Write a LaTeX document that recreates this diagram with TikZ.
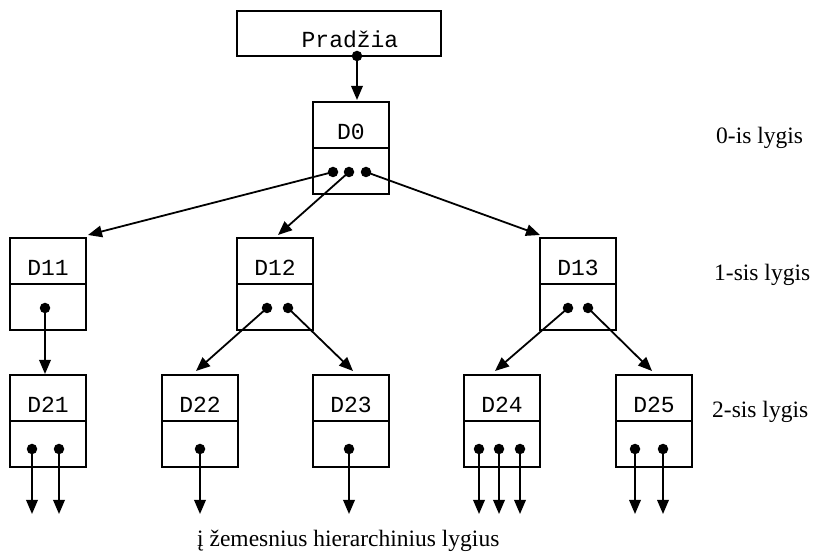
\documentclass[tikz,border=0pt]{standalone}
\usepackage{fontspec}
\setmainfont{Liberation Serif}
\setmonofont{Liberation Mono}
\usetikzlibrary{arrows.meta,calc}

\tikzset{
  compart/.style={draw, line width=2pt, inner sep=0pt, outer sep=0pt,
                  minimum width=76pt, minimum height=46pt},
  boxtext/.style={font=\fontsize{23}{26}\selectfont\ttfamily, inner sep=0pt},
  leveltext/.style={font=\fontsize{23.5}{27}\selectfont, inner sep=0pt, anchor=base west},
  dot/.style={circle, fill, inner sep=0pt, minimum size=10.5pt},
  link/.style={line width=1.8pt, -{Triangle[length=14pt,width=11.5pt]}},
}

% a directory record: name, left x, top y, label
\newcommand\dirrec[4]{%
  \node[compart, anchor=north west] (#1-top) at (#2,#3) {};
  \node[compart, anchor=north] (#1-bot) at (#1-top.south) {};
  \node[boxtext, anchor=base] (#1-lbl) at ($(#1-top.north)+(0,38)$) {#4};
}

\begin{document}
\begin{tikzpicture}[x=1pt,y=-1pt]
\useasboundingbox (0,0) rectangle (815,553);

% start record
\node[compart, minimum width=204pt, minimum height=45pt, anchor=north west] (start) at (237,11) {};
\node[boxtext, anchor=base] (start-lbl) at (350,48) {Pradžia};
\node[dot] (start-p) at (357,56) {};

% level 0
\dirrec{D0}{313}{102}{D0}
% level 1
\dirrec{D11}{10}{238}{D11}
\dirrec{D12}{237}{238}{D12}
\dirrec{D13}{540}{238}{D13}
% level 2
\dirrec{D21}{10}{375}{D21}
\dirrec{D22}{162}{375}{D22}
\dirrec{D23}{313}{375}{D23}
\dirrec{D24}{464}{375}{D24}
\dirrec{D25}{616}{375}{D25}

% pointers
\node[dot] (D0-p1) at (333,172) {};
\node[dot] (D0-p2) at (349,172) {};
\node[dot] (D0-p3) at (366,172) {};
\node[dot] (D11-p1) at (45,308) {};
\node[dot] (D12-p1) at (267,308) {};
\node[dot] (D12-p2) at (288,308) {};
\node[dot] (D13-p1) at (568,308) {};
\node[dot] (D13-p2) at (588,308) {};
\node[dot] (D21-p1) at (32,449) {};
\node[dot] (D21-p2) at (59,449) {};
\node[dot] (D22-p1) at (200,449) {};
\node[dot] (D23-p1) at (349,449) {};
\node[dot] (D24-p1) at (479,449) {};
\node[dot] (D24-p2) at (499,449) {};
\node[dot] (D24-p3) at (520,449) {};
\node[dot] (D25-p1) at (635,449) {};
\node[dot] (D25-p2) at (663,449) {};

% loose ends towards lower levels
\foreach \p in {D21-p1,D21-p2,D22-p1,D23-p1,D24-p1,D24-p2,D24-p3,D25-p1,D25-p2}
  \coordinate (\p-end) at (\p |- 0,514);

% links
\draw[link] (start-p.center) -- ($(D0-top.north)+(6,-2)$);
\draw[link] (D0-p1.center) -- ($(D11-top.north east)+(2,-3)$);
\draw[link] (D0-p2.center) -- ($(D12-top.north)+(3,-3)$);
\draw[link] (D0-p3.center) -- ($(D13-top.north west)+(0,-3)$);
\draw[link] (D11-p1.center) -- ($(D21-top.north)+(-3,-1)$);
\draw[link] (D12-p1.center) -- ($(D22-top.north)+(-4,-4)$);
\draw[link] (D12-p2.center) -- ($(D23-top.north)+(2,-4)$);
\draw[link] (D13-p1.center) -- ($(D24-top.north)+(-7,-4)$);
\draw[link] (D13-p2.center) -- ($(D25-top.north)+(-2,-4)$);
\foreach \p in {D21-p1,D21-p2,D22-p1,D23-p1,D24-p1,D24-p2,D24-p3,D25-p1,D25-p2}
  \draw[link] (\p.center) -- (\p-end);

% level captions
\node[leveltext] (lvl0) at (716,144) {0-is lygis};
\node[leveltext] (lvl1) at (714,281) {1-sis lygis};
\node[leveltext] (lvl2) at (712,418) {2-sis lygis};
\node[leveltext] (lower) at (197,547) {į žemesnius hierarchinius lygius};
\end{tikzpicture}
\end{document}
